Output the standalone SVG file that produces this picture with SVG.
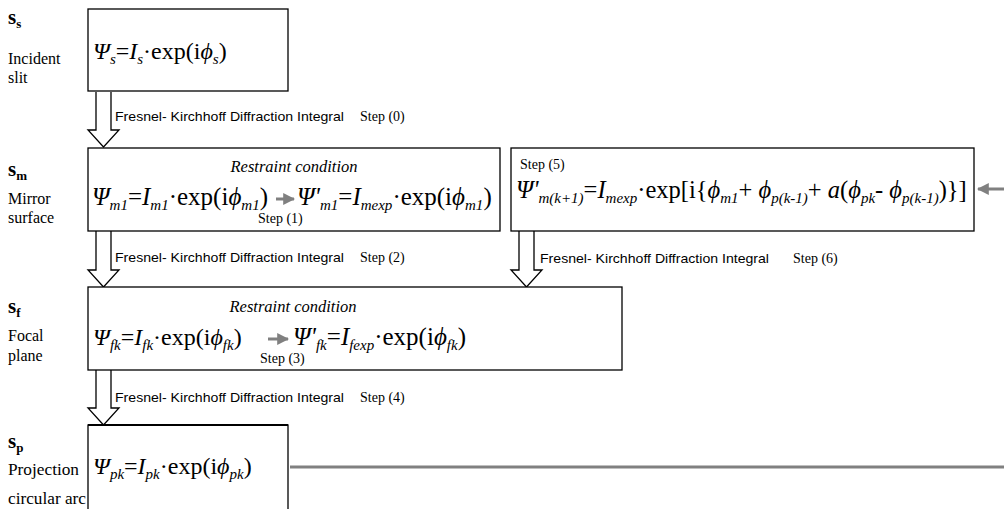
<svg xmlns="http://www.w3.org/2000/svg" width="1004" height="509" viewBox="0 0 1004 509">
<defs>
<style>
.box{fill:#fff;stroke:#000;stroke-width:1.3}
.harrow{fill:#fff;stroke:#000;stroke-width:1.3;stroke-linejoin:miter}
.lbl{font-family:"Liberation Sans",Arial,sans-serif;font-size:13.5px;fill:#000}
.step{font-family:"Liberation Serif","Times New Roman",serif;font-size:14px;fill:#000}
.side{font-family:"Liberation Serif","Times New Roman",serif;font-size:16px;fill:#000}
.sym{font-family:"Liberation Serif","Times New Roman",serif;font-size:21px;font-weight:bold;fill:#000}
.symsub{font-size:13px}
.f{font-family:"Liberation Serif","Times New Roman",serif;font-size:24px;fill:#000}
.f25{font-size:25px}
.i{font-style:italic}
.sub{font-style:italic;font-size:15px}
.rc{font-family:"Liberation Serif","Times New Roman",serif;font-size:16.5px;font-style:italic;fill:#000}
.gray{stroke:#808080;stroke-width:3;fill:none}
</style>
<marker id="gh" viewBox="0 0 10 10" refX="9" refY="5" markerWidth="4" markerHeight="4.6" orient="auto" markerUnits="strokeWidth">
<path d="M0,0 L10,5 L0,10 Z" fill="#808080"/>
</marker>
</defs>

<g id="side-labels">
<text class="sym" x="8" y="24">s<tspan class="symsub" dy="4">s</tspan></text>
<text class="side" x="8" y="64">Incident</text>
<text class="side" x="8" y="83">slit</text>
<text class="sym" x="8" y="176">s<tspan class="symsub" dy="4">m</tspan></text>
<text class="side" x="8" y="204">Mirror</text>
<text class="side" x="8" y="223">surface</text>
<text class="sym" x="8" y="313">s<tspan class="symsub" dy="4">f</tspan></text>
<text class="side" x="8" y="341">Focal</text>
<text class="side" x="8" y="361">plane</text>
<text class="sym" x="8" y="448">s<tspan class="symsub" dy="4">p</tspan></text>
<text class="side" x="8" y="475" textLength="71" lengthAdjust="spacingAndGlyphs">Projection</text>
<text class="side" x="8" y="504" textLength="78" lengthAdjust="spacingAndGlyphs">circular arc</text>
</g>

<g id="connectors">
<path class="harrow" d="M96,92 L96,130 L88,130 L103.5,147 L119,130 L111,130 L111,92"/>
<path class="harrow" d="M96,231 L96,270 L88,270 L103.5,287 L119,270 L111,270 L111,231"/>
<path class="harrow" d="M519,231 L519,270 L511,270 L526.5,287 L542,270 L534,270 L534,231"/>
<path class="harrow" d="M96,370 L96,408 L88,408 L103.5,425 L119,408 L111,408 L111,370"/>
<text class="lbl" x="115" y="121" textLength="229" lengthAdjust="spacingAndGlyphs">Fresnel- Kirchhoff Diffraction Integral</text>
<text class="step" x="360" y="121">Step (0)</text>
<text class="lbl" x="115" y="262" textLength="229" lengthAdjust="spacingAndGlyphs">Fresnel- Kirchhoff Diffraction Integral</text>
<text class="step" x="360" y="262">Step (2)</text>
<text class="lbl" x="540" y="263" textLength="229" lengthAdjust="spacingAndGlyphs">Fresnel- Kirchhoff Diffraction Integral</text>
<text class="step" x="793" y="263">Step (6)</text>
<text class="lbl" x="115" y="402" textLength="229" lengthAdjust="spacingAndGlyphs">Fresnel- Kirchhoff Diffraction Integral</text>
<text class="step" x="360" y="402">Step (4)</text>
<path class="gray" d="M290,467 L1007,467 L1007,189 L978,189" marker-end="url(#gh)"/>
</g>

<g id="node-s">
<rect class="box" x="88" y="9" width="200" height="82"/>
<text class="f" x="93" y="59"><tspan class="i">Ψ</tspan><tspan class="sub" dy="5">s</tspan><tspan dy="-5">=</tspan><tspan class="i">I</tspan><tspan class="sub" dy="5">s</tspan><tspan dy="-5">·exp(i</tspan><tspan class="i">ϕ</tspan><tspan class="sub" dy="5">s</tspan><tspan dy="-5">)</tspan></text>
</g>

<g id="node-m">
<rect class="box" x="88" y="148" width="412" height="83"/>
<text class="rc" x="294" y="172" text-anchor="middle">Restraint condition</text>
<text class="f f25" x="92" y="205"><tspan class="i">Ψ</tspan><tspan class="sub" dy="5">m1</tspan><tspan dy="-5">=</tspan><tspan class="i">I</tspan><tspan class="sub" dy="5">m1</tspan><tspan dy="-5">·exp(i</tspan><tspan class="i">ϕ</tspan><tspan class="sub" dy="5">m1</tspan><tspan dy="-5">)</tspan></text>
<line class="gray" x1="276" y1="199" x2="294" y2="199" marker-end="url(#gh)"/>
<text class="f f25" x="297" y="205"><tspan class="i">Ψ'</tspan><tspan class="sub" dy="5">m1</tspan><tspan dy="-5">=</tspan><tspan class="i">I</tspan><tspan class="sub" dy="5">mexp</tspan><tspan dy="-5">·exp(i</tspan><tspan class="i">ϕ</tspan><tspan class="sub" dy="5">m1</tspan><tspan dy="-5">)</tspan></text>
<text class="step" x="258" y="223">Step (1)</text>
</g>

<g id="node-step5">
<rect class="box" x="511" y="148" width="463" height="83"/>
<text class="step" x="520" y="169">Step (5)</text>
<text class="f" x="516" y="198" style="font-size:24.5px"><tspan class="i">Ψ'</tspan><tspan class="sub" dy="5">m(k+1)</tspan><tspan dy="-5">=</tspan><tspan class="i">I</tspan><tspan class="sub" dy="5">mexp</tspan><tspan dy="-5">·exp[i{</tspan><tspan class="i">ϕ</tspan><tspan class="sub" dy="5">m1</tspan><tspan dy="-5">+ </tspan><tspan class="i">ϕ</tspan><tspan class="sub" dy="5">p(k-1)</tspan><tspan dy="-5">+ </tspan><tspan class="i">a</tspan>(<tspan class="i">ϕ</tspan><tspan class="sub" dy="5">pk</tspan><tspan dy="-5">- </tspan><tspan class="i">ϕ</tspan><tspan class="sub" dy="5">p(k-1)</tspan><tspan dy="-5">)}]</tspan></text>
</g>

<g id="node-f">
<rect class="box" x="88" y="287" width="534" height="83"/>
<text class="rc" x="293" y="312" text-anchor="middle">Restraint condition</text>
<text class="f" x="93" y="345"><tspan class="i">Ψ</tspan><tspan class="sub" dy="5">fk</tspan><tspan dy="-5">=</tspan><tspan class="i">I</tspan><tspan class="sub" dy="5">fk</tspan><tspan dy="-5">·exp(i</tspan><tspan class="i">ϕ</tspan><tspan class="sub" dy="5">fk</tspan><tspan dy="-5">)</tspan></text>
<line class="gray" x1="268" y1="339" x2="288" y2="339" marker-end="url(#gh)"/>
<text class="f f25" x="293" y="345"><tspan class="i">Ψ'</tspan><tspan class="sub" dy="5">fk</tspan><tspan dy="-5">=</tspan><tspan class="i">I</tspan><tspan class="sub" dy="5">fexp</tspan><tspan dy="-5">·exp(i</tspan><tspan class="i">ϕ</tspan><tspan class="sub" dy="5">fk</tspan><tspan dy="-5">)</tspan></text>
<text class="step" x="260" y="363">Step (3)</text>
</g>

<g id="node-p">
<rect class="box" x="88" y="425" width="200" height="95"/>
<line x1="88" y1="425" x2="288" y2="425" stroke="#000" stroke-width="2"/>
<text class="f" x="93" y="474"><tspan class="i">Ψ</tspan><tspan class="sub" dy="5">pk</tspan><tspan dy="-5">=</tspan><tspan class="i">I</tspan><tspan class="sub" dy="5">pk</tspan><tspan dy="-5">·exp(i</tspan><tspan class="i">ϕ</tspan><tspan class="sub" dy="5">pk</tspan><tspan dy="-5">)</tspan></text>
</g>
</svg>
